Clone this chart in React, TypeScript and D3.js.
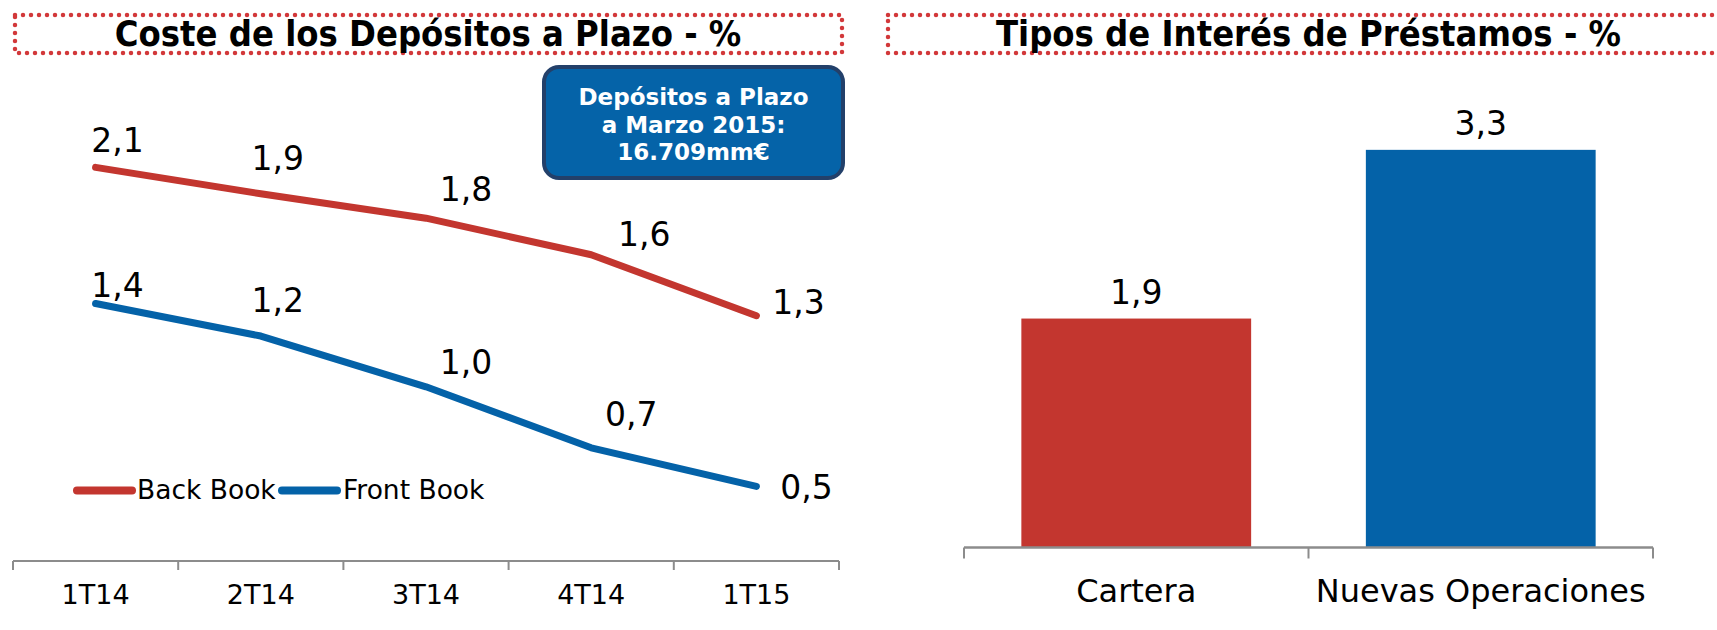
import * as d3 from 'd3';

// Left chart: cost of term deposits
const quarters = ['1T14', '2T14', '3T14', '4T14', '1T15'];
const backBook = [2.07, 1.94, 1.82, 1.64, 1.34];
const frontBook = [1.4, 1.24, 0.99, 0.69, 0.5];
const seriesNames = ['Back Book', 'Front Book'];

// Right chart: loan interest rates
const loanCategories = ['Cartera', 'Nuevas Operaciones'];
const loanRates = [1.9, 3.3];

// label nudges (dx to text centre, dy to baseline) relative to each point
const backNudge = [[22, -15], [17, -24], [40, -17], [53, -9], [42, -2]];
const frontNudge = [[22, -7], [17, -24], [40, -13], [40, -22], [50, 13]];

const RED = '#C3362F';
const BLUE = '#0462A8';
const GREY = '#8C8C8C';
const FONT = '"DejaVu Sans", Verdana, sans-serif';
const FONT_COND = '"DejaVu Sans Condensed", "DejaVu Sans", sans-serif';

const fmt = (v: number) => v.toFixed(1).replace('.', ',');

export default function App() {
  const width = 1717, height = 630;

  // left chart scales
  const axisLeftY = 561;
  const x = d3.scaleBand().domain(quarters).range([13, 839]).padding(0);
  const y = d3.scaleLinear().domain([0, 2.5]).range([588, 80]);
  const cx = (i: number) => (x(quarters[i]) as number) + x.bandwidth() / 2;
  const line = d3.line<number>().x((_, i) => cx(i)).y((d) => y(d));

  const series = [
    { name: seriesNames[0], values: backBook, color: RED, nudge: backNudge },
    { name: seriesNames[1], values: frontBook, color: BLUE, nudge: frontNudge },
  ];

  // right chart scales
  const xb = d3.scaleBand().domain(loanCategories).range([964, 1653])
    .paddingInner(0.333).paddingOuter(0.1665);
  const yb = d3.scaleLinear().domain([0, 4]).range([547.5, 65.5]);
  const barColors = [RED, BLUE];
  const bandEdges = [...loanCategories.map((c) => (xb(c) as number) - xb.step() * 0.1665), 1653];

  const leftEdges = [...quarters.map((q) => x(q) as number), 839];

  return (
    <svg width={width} height={height} viewBox={`0 0 ${width} ${height}`}
      style={{ position: 'absolute', left: 0, top: 0, display: 'block', background: '#fff' }}
      fontFamily={FONT}>
      {/* title boxes */}
      <rect x={15} y={15} width={827} height={38} fill="none" stroke="#D2383A"
        strokeWidth={4.5} strokeDasharray="0 8" strokeLinecap="round" />
      <text x={428} y={46} textAnchor="middle" fontSize={36} fontWeight="bold"
        fontFamily={FONT_COND}>Coste de los Depósitos a Plazo - %</text>
      <rect x={888} y={15} width={845} height={38} fill="none" stroke="#D2383A"
        strokeWidth={4.5} strokeDasharray="0 8" strokeLinecap="round" />
      <text x={1308.5} y={46} textAnchor="middle" fontSize={36} fontWeight="bold"
        fontFamily={FONT_COND}>Tipos de Interés de Préstamos - %</text>

      {/* left x axis */}
      <line x1={13} x2={839} y1={axisLeftY} y2={axisLeftY} stroke={GREY} strokeWidth={2} />
      {leftEdges.map((e, i) => (
        <line key={i} x1={e} x2={e} y1={axisLeftY} y2={axisLeftY + 9} stroke={GREY} strokeWidth={2} />
      ))}
      {quarters.map((q, i) => (
        <text key={q} x={cx(i)} y={604} textAnchor="middle" fontSize={27}>{q}</text>
      ))}

      {/* lines */}
      {series.map((s) => (
        <g key={s.name}>
          <path d={line(s.values) as string} fill="none" stroke={s.color} strokeWidth={7}
            strokeLinecap="round" strokeLinejoin="round" />
          {s.values.map((v, i) => (
            <text key={i} x={cx(i) + s.nudge[i][0]} y={y(v) + s.nudge[i][1]}
              textAnchor="middle" fontSize={33}>{fmt(v)}</text>
          ))}
        </g>
      ))}

      {/* legend */}
      <line x1={77} x2={132} y1={490.5} y2={490.5} stroke={RED} strokeWidth={8} strokeLinecap="round" />
      <text x={137} y={499} fontSize={26.5}>{seriesNames[0]}</text>
      <line x1={282} x2={337} y1={490.5} y2={490.5} stroke={BLUE} strokeWidth={8} strokeLinecap="round" />
      <text x={343} y={499} fontSize={26.5}>{seriesNames[1]}</text>

      {/* info box */}
      <rect x={544} y={67} width={299} height={111} rx={15} fill="#0563A8" stroke="#23406A" strokeWidth={4} />
      <g fill="#fff" fontWeight="bold" fontSize={23} textAnchor="middle">
        <text x={693.5} y={105}>Depósitos a Plazo</text>
        <text x={693.5} y={133}>a Marzo 2015:</text>
        <text x={693.5} y={160}>16.709mm€</text>
      </g>

      {/* bars */}
      {loanCategories.map((c, i) => (
        <g key={c}>
          <rect x={xb(c)} y={yb(loanRates[i])} width={xb.bandwidth()}
            height={yb(0) - yb(loanRates[i])} fill={barColors[i]} />
          <text x={(xb(c) as number) + xb.bandwidth() / 2} y={yb(loanRates[i]) - 15}
            textAnchor="middle" fontSize={33}>{fmt(loanRates[i])}</text>
          <text x={(xb(c) as number) + xb.bandwidth() / 2} y={602}
            textAnchor="middle" fontSize={32}>{c}</text>
        </g>
      ))}
      <line x1={964} x2={1653} y1={yb(0)} y2={yb(0)} stroke={GREY} strokeWidth={2.5} />
      {bandEdges.map((e, i) => (
        <line key={i} x1={e} x2={e} y1={yb(0)} y2={yb(0) + 11} stroke={GREY} strokeWidth={2} />
      ))}
    </svg>
  );
}
